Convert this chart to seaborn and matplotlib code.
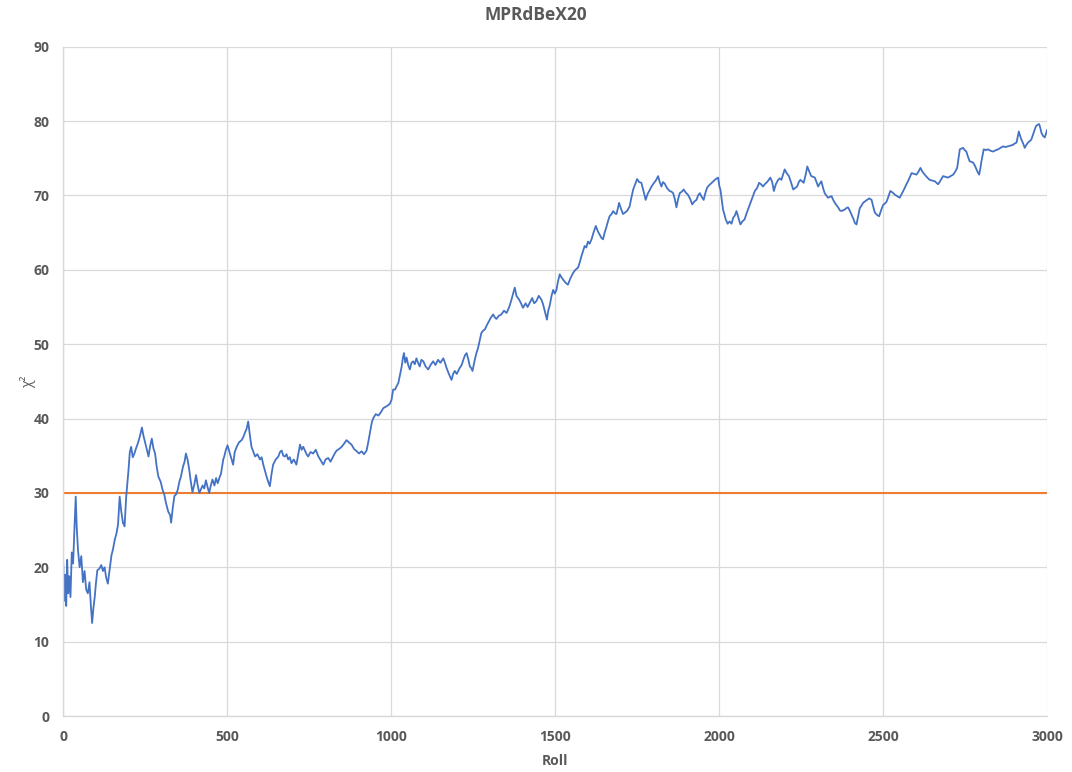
import matplotlib
matplotlib.use("Agg")
import matplotlib.pyplot as plt
import seaborn as sns
import pandas as pd

# Running chi-square statistic by roll number
roll = [
    0, 3, 6, 9, 12, 15, 18, 22, 26, 30, 34, 38, 41, 45, 50, 55, 60, 65, 70, 75,
    80, 84, 88, 92, 96, 100, 104, 110, 116, 121, 126, 131, 136, 141, 147, 152, 157, 162, 167, 172,
    177, 182, 187, 192, 199, 203, 207, 212, 217, 222, 227, 233, 240, 244, 248, 254, 260, 265, 270, 275,
    280, 285, 290, 297, 303, 308, 313, 320, 326, 329, 334, 339, 344, 349, 354, 359, 365, 370, 374, 379,
    384, 389, 394, 400, 405, 410, 415, 420, 425, 430, 435, 440, 445, 450, 455, 461, 466, 471, 476, 481,
    488, 491, 496, 501, 507, 511, 518, 523, 529, 536, 544, 549, 554, 559, 564, 569, 574, 580, 585, 592,
    600, 605, 610, 615, 620, 625, 630, 635, 640, 648, 656, 661, 666, 671, 676, 681, 686, 691, 696, 703,
    711, 716, 722, 727, 732, 737, 742, 747, 754, 762, 770, 778, 786, 793, 800, 808, 815, 823, 829, 834,
    841, 849, 856, 864, 871, 879, 887, 895, 902, 910, 917, 925, 930, 935, 941, 946, 953, 961, 968, 976,
    984, 991, 996, 1001, 1006, 1012, 1016, 1022, 1026, 1032, 1036, 1039, 1043, 1047, 1052, 1057, 1062, 1067, 1072, 1077,
    1082, 1087, 1092, 1098, 1105, 1113, 1120, 1128, 1135, 1143, 1150, 1159, 1164, 1169, 1176, 1181, 1184, 1189, 1194, 1200,
    1209, 1215, 1220, 1225, 1230, 1235, 1240, 1244, 1248, 1255, 1260, 1265, 1270, 1275, 1280, 1286, 1291, 1296, 1303, 1311,
    1316, 1321, 1328, 1336, 1344, 1352, 1360, 1367, 1373, 1377, 1382, 1390, 1396, 1402, 1410, 1416, 1423, 1430, 1436, 1443,
    1450, 1458, 1463, 1468, 1475, 1479, 1484, 1489, 1494, 1499, 1504, 1509, 1514, 1519, 1524, 1531, 1539, 1547, 1555, 1562,
    1570, 1575, 1580, 1585, 1590, 1595, 1600, 1605, 1611, 1617, 1624, 1630, 1636, 1641, 1646, 1651, 1656, 1661, 1666, 1672,
    1677, 1682, 1687, 1691, 1695, 1701, 1707, 1713, 1719, 1723, 1727, 1733, 1738, 1744, 1750, 1756, 1763, 1770, 1776, 1782,
    1788, 1794, 1800, 1807, 1814, 1819, 1824, 1829, 1834, 1841, 1849, 1855, 1860, 1865, 1870, 1875, 1880, 1886, 1892, 1898,
    1905, 1912, 1918, 1925, 1931, 1936, 1941, 1947, 1953, 1958, 1963, 1968, 1973, 1980, 1987, 1993, 1997, 2001, 2004, 2008,
    2012, 2016, 2020, 2026, 2032, 2038, 2043, 2048, 2053, 2059, 2065, 2071, 2078, 2083, 2088, 2094, 2099, 2104, 2109, 2116,
    2122, 2128, 2134, 2139, 2144, 2150, 2156, 2162, 2167, 2173, 2180, 2185, 2190, 2195, 2200, 2206, 2213, 2219, 2226, 2232,
    2238, 2243, 2248, 2253, 2258, 2264, 2269, 2275, 2281, 2287, 2292, 2297, 2302, 2307, 2312, 2317, 2322, 2327, 2332, 2338,
    2343, 2348, 2353, 2358, 2363, 2368, 2373, 2378, 2383, 2388, 2393, 2398, 2403, 2410, 2414, 2419, 2424, 2429, 2434, 2439,
    2445, 2451, 2458, 2465, 2470, 2475, 2481, 2488, 2494, 2500, 2505, 2510, 2516, 2522, 2529, 2536, 2543, 2551, 2558, 2566,
    2571, 2576, 2582, 2587, 2594, 2602, 2608, 2614, 2620, 2627, 2635, 2642, 2650, 2658, 2663, 2668, 2675, 2683, 2690, 2698,
    2706, 2714, 2720, 2726, 2730, 2734, 2739, 2744, 2749, 2754, 2759, 2764, 2770, 2775, 2780, 2785, 2789, 2793, 2797, 2800,
    2804, 2807, 2814, 2820, 2828, 2836, 2844, 2851, 2858, 2866, 2873, 2881, 2888, 2896, 2902, 2907, 2911, 2914, 2918, 2922,
    2927, 2932, 2937, 2942, 2947, 2952, 2959, 2966, 2971, 2976, 2980, 2983, 2988, 2993, 2997, 3000,
]

chi2 = [
    20.5, 15.5, 19.0, 14.8, 21.0, 16.5, 18.8, 16.0, 22.0, 20.5, 25.0, 29.5, 25.5, 22.3, 20.0, 21.5, 18.0, 19.5, 17.0, 16.5,
    18.0, 15.0, 12.5, 14.5, 16.0, 18.0, 19.6, 19.8, 20.3, 19.5, 20.0, 18.6, 17.8, 19.5, 21.6, 22.5, 23.7, 24.5, 25.7, 29.5,
    27.5, 26.0, 25.5, 29.5, 33.1, 35.5, 36.2, 34.8, 35.3, 36.0, 36.6, 37.5, 38.8, 37.8, 37.1, 36.0, 34.9, 36.3, 37.3, 36.0,
    35.3, 33.5, 32.2, 31.5, 30.4, 29.8, 28.7, 27.5, 27.0, 26.0, 28.0, 29.6, 29.8, 30.4, 31.5, 32.2, 33.5, 34.2, 35.3, 34.5,
    33.2, 31.5, 30.1, 31.2, 32.4, 31.0, 30.0, 30.5, 31.0, 30.6, 31.7, 30.8, 30.0, 31.0, 31.8, 31.0, 32.0, 31.3, 32.0, 32.6,
    34.5, 34.9, 35.8, 36.4, 35.5, 34.9, 33.8, 35.5, 36.2, 36.8, 37.1, 37.5, 38.1, 38.6, 39.6, 37.8, 36.2, 35.5, 34.9, 35.2,
    34.5, 34.8, 33.8, 33.0, 32.2, 31.5, 30.9, 32.5, 33.8, 34.5, 34.9, 35.5, 35.7, 35.0, 34.9, 35.2, 34.5, 34.8, 34.0, 34.5,
    33.8, 35.0, 36.5, 35.8, 36.2, 35.7, 35.2, 34.9, 35.5, 35.3, 35.8, 34.9, 34.3, 33.8, 34.5, 34.7, 34.2, 34.9, 35.4, 35.7,
    35.9, 36.2, 36.6, 37.1, 36.8, 36.5, 35.9, 35.6, 35.3, 35.6, 35.2, 35.7, 36.8, 38.0, 39.5, 40.1, 40.6, 40.4, 40.8, 41.4,
    41.6, 41.8, 42.0, 42.5, 43.9, 43.9, 44.3, 44.8, 45.7, 47.0, 48.2, 48.8, 47.5, 48.2, 47.2, 46.6, 47.5, 47.7, 47.3, 48.1,
    47.5, 47.0, 47.9, 47.7, 47.0, 46.6, 47.2, 47.7, 47.2, 47.9, 47.5, 48.1, 47.5, 46.8, 46.0, 45.5, 45.2, 46.0, 46.4, 46.0,
    46.8, 47.2, 47.9, 48.5, 48.8, 48.0, 47.0, 46.8, 46.4, 47.9, 48.8, 49.5, 50.5, 51.5, 51.8, 52.0, 52.5, 52.9, 53.5, 54.0,
    53.6, 53.4, 53.8, 54.0, 54.5, 54.2, 55.0, 56.0, 57.0, 57.6, 56.5, 56.0, 55.5, 54.9, 55.5, 55.0, 55.6, 56.2, 55.5, 55.8,
    56.5, 56.0, 55.4, 54.5, 53.3, 54.5, 55.3, 56.5, 57.3, 56.8, 57.3, 58.5, 59.4, 59.0, 58.7, 58.3, 58.0, 58.9, 59.6, 60.0,
    60.3, 61.0, 61.8, 62.5, 63.2, 63.0, 63.8, 63.5, 64.1, 65.0, 65.9, 65.2, 64.7, 64.3, 64.1, 65.0, 65.7, 66.5, 67.2, 67.5,
    67.9, 67.6, 67.5, 68.2, 69.0, 68.2, 67.5, 67.7, 67.9, 68.2, 68.5, 69.8, 70.8, 71.5, 72.2, 71.8, 71.7, 70.5, 69.4, 70.2,
    70.7, 71.2, 71.6, 72.0, 72.6, 71.8, 71.2, 71.8, 71.6, 71.0, 70.6, 70.5, 70.3, 69.5, 68.4, 69.5, 70.3, 70.5, 70.8, 70.4,
    70.1, 69.5, 68.8, 69.2, 69.4, 70.0, 70.3, 69.8, 69.4, 70.3, 71.0, 71.3, 71.5, 71.8, 72.1, 72.3, 72.4, 71.2, 70.8, 69.5,
    68.1, 67.5, 66.8, 66.2, 66.5, 66.2, 67.0, 67.3, 67.9, 67.0, 66.1, 66.5, 66.8, 67.5, 68.1, 68.8, 69.4, 70.0, 70.6, 71.0,
    71.7, 71.5, 71.2, 71.5, 71.7, 72.0, 72.4, 71.8, 70.6, 71.5, 72.1, 72.3, 72.1, 72.8, 73.5, 73.0, 72.6, 71.8, 70.8, 71.0,
    71.2, 71.8, 72.1, 71.9, 71.7, 72.8, 73.9, 73.2, 72.6, 72.5, 72.4, 71.8, 71.2, 71.6, 71.9, 71.0, 70.3, 70.0, 69.7, 69.8,
    69.9, 69.4, 69.0, 68.7, 68.4, 68.0, 67.9, 68.0, 68.1, 68.3, 68.4, 68.0, 67.5, 66.8, 66.3, 66.1, 67.2, 68.3, 68.6, 69.0,
    69.2, 69.4, 69.6, 69.4, 68.5, 67.7, 67.4, 67.2, 68.0, 68.7, 68.9, 69.1, 69.8, 70.6, 70.4, 70.1, 69.9, 69.7, 70.3, 71.0,
    71.5, 71.9, 72.5, 73.0, 72.9, 72.8, 73.2, 73.7, 73.2, 72.8, 72.4, 72.1, 72.0, 71.9, 71.7, 71.5, 72.0, 72.6, 72.5, 72.4,
    72.6, 72.8, 73.2, 73.7, 75.0, 76.2, 76.3, 76.4, 76.1, 75.9, 75.2, 74.6, 74.5, 74.4, 74.0, 73.5, 73.1, 72.8, 73.7, 74.6,
    75.5, 76.2, 76.1, 76.2, 76.0, 75.9, 76.1, 76.2, 76.4, 76.6, 76.5, 76.6, 76.7, 76.8, 77.0, 77.1, 78.0, 78.6, 78.0, 77.5,
    77.0, 76.4, 76.8, 77.1, 77.3, 77.5, 78.4, 79.3, 79.5, 79.6, 79.0, 78.4, 78.0, 77.8, 78.3, 78.8,
]

critical_value = 30
x_range = [0, 3000]
x_ticks = [0, 500, 1000, 1500, 2000, 2500, 3000]
y_ticks = [0, 10, 20, 30, 40, 50, 60, 70, 80, 90]

BLUE = "#4472C4"
ORANGE = "#ED7D31"
GRID = "#D9D9D9"
TEXT = "#595959"

sns.set_theme(style="whitegrid")
plt.rcParams["font.family"] = ["Open Sans", "DejaVu Sans"]

series = pd.DataFrame({"Roll": roll, "chi2": chi2})
threshold = pd.DataFrame({"Roll": x_range, "chi2": [critical_value] * len(x_range)})

fig = plt.figure(figsize=(10.72, 7.72), dpi=100)
ax = fig.add_axes([0.059, 0.0725, 0.9177, 0.867])

sns.lineplot(data=threshold, x="Roll", y="chi2", color=ORANGE, linewidth=1.5, ax=ax)
sns.lineplot(data=series, x="Roll", y="chi2", color=BLUE, linewidth=1.3, ax=ax)

ax.set_xlim(x_range)
ax.set_ylim(y_ticks[0], y_ticks[-1])
ax.set_xticks(x_ticks)
ax.set_yticks(y_ticks)
ax.grid(True, color=GRID, linewidth=0.9)
for side in ["top", "right"]:
    ax.spines[side].set_visible(False)
for side in ["left", "bottom"]:
    ax.spines[side].set_color(GRID)
    ax.spines[side].set_linewidth(1.0)

ax.tick_params(axis="both", length=0, labelsize=10, labelcolor=TEXT, pad=10)
for lbl in ax.get_xticklabels() + ax.get_yticklabels():
    lbl.set_fontweight("bold")

ax.set_xlabel("Roll", fontsize=10, fontweight="bold", color=TEXT, labelpad=7)
ax.set_ylabel("χ²", fontsize=10, color=TEXT, labelpad=-2)
fig.suptitle("MPRdBeX20", x=0.5, y=0.992, fontsize=12.5, fontweight="bold", color=TEXT)

fig.savefig("out.png", dpi=100)
